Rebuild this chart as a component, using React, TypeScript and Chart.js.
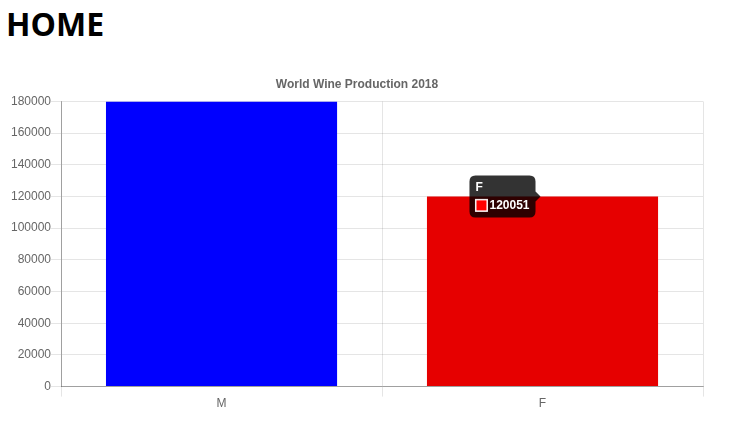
import React, { useEffect, useRef } from "react";
import { Chart, registerables } from "chart.js";

Chart.register(...registerables);

const categories = ["M", "F"];
const production = [180000, 120051];
const barColors = ["#0000ff", "#ff0000"];
const chartTitle = "World Wine Production 2018";
const yMax = 180000;
const yStep = 20000;

export default function App() {
  const ref = useRef<HTMLCanvasElement | null>(null);

  useEffect(() => {
    if (!ref.current) return;
    Chart.defaults.font.family = "'Helvetica Neue', Helvetica, Arial, 'Liberation Sans', sans-serif";
    Chart.defaults.color = "#666";
    const chart = new Chart(ref.current, {
      type: "bar",
      data: {
        labels: categories,
        datasets: [
          {
            data: production,
            backgroundColor: barColors,
            borderColor: "rgba(255,255,255,0.9)",
            borderWidth: 0,
          },
        ],
      },
      options: {
        animation: false,
        responsive: true,
        maintainAspectRatio: false,
        events: [],
        layout: { padding: { left: 3, right: 21, top: 0, bottom: 0 } },
        plugins: {
          legend: { display: false },
          title: {
            display: true,
            text: chartTitle,
            color: "#666",
            font: { size: 12, weight: "bold" },
            padding: { top: 10, bottom: 10 },
          },
          tooltip: {
            enabled: true,
            backgroundColor: "rgba(0,0,0,0.8)",
            titleFont: { size: 12, weight: "bold", lineHeight: 1 },
            bodyFont: { size: 12, weight: "bold", lineHeight: 1 },
            padding: 6,
            cornerRadius: 6,
            caretSize: 5,
            caretPadding: 2,
            titleMarginBottom: 6,
            bodySpacing: 2,
            displayColors: true,
            multiKeyBackground: "#fff",
            callbacks: {
              label: (ctx: any) => String(ctx.raw),
            },
          },
        },
        scales: {
          x: {
            grid: { color: "rgba(0,0,0,0.1)", tickLength: 10, offset: true },
            border: { color: "rgba(0,0,0,0.3)" },
            ticks: { color: "#666", font: { size: 12 }, padding: 0 },
          },
          y: {
            min: 0,
            max: yMax,
            grid: { color: "rgba(0,0,0,0.1)", tickLength: 10 },
            border: { color: "rgba(0,0,0,0.3)" },
            ticks: {
              stepSize: yStep,
              color: "#666",
              font: { size: 12 },
              padding: 0,
              callback: (v: any) => String(v),
            },
          },
        },
      },
    });
    const active = [{ datasetIndex: 0, index: 1 }];
    chart.setActiveElements(active);
    chart.tooltip?.setActiveElements(active, { x: 0, y: 0 });
    chart.update();
    return () => chart.destroy();
  }, []);

  return (
    <div>
      <h1
        style={{
          margin: 0,
          marginLeft: -2,
          lineHeight: "32px",
          fontSize: "32px",
          fontFamily: "'Open Sans', sans-serif",
          fontWeight: 700,
          color: "#000",
        }}
      >
        HOME
      </h1>
      <div style={{ position: "relative", width: 716, height: 344, marginTop: 27 }}>
        <canvas ref={ref} />
      </div>
    </div>
  );
}
